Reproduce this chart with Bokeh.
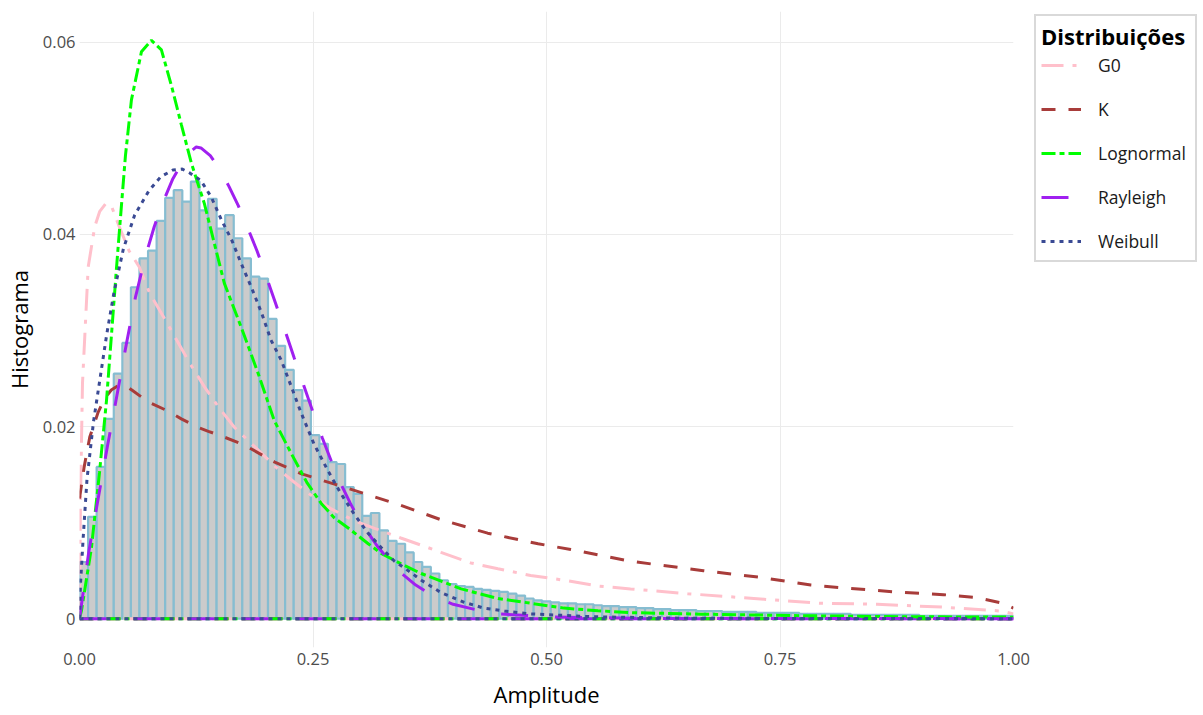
from bokeh.plotting import figure
from bokeh.layouts import row
from bokeh.models import Legend, LegendItem, FixedTicker, ColumnDataSource, Range1d
from bokeh.embed import file_html
from bokeh.resources import INLINE

# ---------------- data ----------------
n_bins = 109
hist_density = [
    0.0059, 0.0106, 0.0158, 0.0208, 0.0255, 0.0287, 0.0345, 0.0375, 0.0383, 0.0414,
    0.0438, 0.0446, 0.0434, 0.0455, 0.0425, 0.0437, 0.0406, 0.0420, 0.0396, 0.0375,
    0.0356, 0.0354, 0.0312, 0.0284, 0.0259, 0.0238, 0.0227, 0.0191, 0.0182, 0.0163,
    0.0161, 0.0137, 0.0130, 0.0107, 0.0110, 0.0092, 0.0081, 0.0078, 0.0069, 0.0059,
    0.0054, 0.0047, 0.0040, 0.0036, 0.0034, 0.0033, 0.0031, 0.0030, 0.0029, 0.0028,
    0.0026, 0.0024, 0.0021, 0.0019, 0.0018, 0.0017, 0.0016, 0.0016, 0.0015, 0.0015,
    0.0014, 0.0013, 0.0013, 0.0012, 0.0012, 0.0011, 0.0011, 0.0010, 0.0010, 0.0009,
    0.0009, 0.0009, 0.0008, 0.0008, 0.0008, 0.0007, 0.0007, 0.0007, 0.0007, 0.0006,
    0.0006, 0.0006, 0.0006, 0.0006, 0.0005, 0.0005, 0.0005, 0.0005, 0.0005, 0.0005,
    0.0004, 0.0004, 0.0004, 0.0004, 0.0004, 0.0004, 0.0004, 0.0004, 0.0003, 0.0003,
    0.0003, 0.0003, 0.0003, 0.0003, 0.0003, 0.0003, 0.0003, 0.0003, 0.0003,
]

g0_x = [0.0, 0.001, 0.0032, 0.0093, 0.0163, 0.0217, 0.028, 0.034, 0.043, 0.053, 0.064,
        0.075, 0.09, 0.104, 0.118, 0.134, 0.149, 0.166, 0.181, 0.195, 0.21, 0.23, 0.25,
        0.27, 0.294, 0.316, 0.344, 0.373, 0.387, 0.419, 0.448, 0.483, 0.519, 0.555, 0.59,
        0.651, 0.722, 0.794, 0.854, 0.925, 0.986, 1.0]
g0_y = [0.0, 0.012, 0.0245, 0.0366, 0.0408, 0.0424, 0.0432, 0.0430, 0.0407, 0.0383, 0.0366,
        0.0339, 0.0314, 0.0290, 0.0266, 0.0241, 0.0220, 0.0199, 0.0185, 0.0172, 0.0158, 0.0142, 0.0127,
        0.0114, 0.0102, 0.0094, 0.0084, 0.0074, 0.0069, 0.0058, 0.0052, 0.0045, 0.0040, 0.0034, 0.0031,
        0.0026, 0.0021, 0.0016, 0.0015, 0.0012, 0.0008, 0.0005]

k_x = [0.0, 0.005, 0.011, 0.02, 0.027, 0.034, 0.042, 0.05, 0.056, 0.066, 0.077, 0.095, 0.109,
       0.127, 0.138, 0.155, 0.176, 0.209, 0.237, 0.273, 0.309, 0.344, 0.387, 0.437, 0.491,
       0.526, 0.583, 0.612, 0.668, 0.729, 0.783, 0.818, 0.872, 0.925, 0.961, 0.989, 1.0]
k_y = [0.0125, 0.0158, 0.0189, 0.0215, 0.0229, 0.0238, 0.0243, 0.0242, 0.0238, 0.0231, 0.0224,
       0.0216, 0.0208, 0.0199, 0.0195, 0.0189, 0.0181, 0.0163, 0.0151, 0.0140, 0.0129, 0.0118,
       0.0103, 0.0089, 0.0078, 0.0072, 0.0061, 0.0057, 0.0050, 0.0043, 0.0035, 0.0032, 0.0028,
       0.0025, 0.0022, 0.0016, 0.0011]

logn_x = [0.0, 0.0021, 0.0128, 0.0214, 0.0289, 0.0342, 0.0396, 0.0449, 0.0492, 0.0556, 0.0663,
          0.077, 0.0877, 0.0984, 0.1091, 0.1198, 0.1337, 0.1551, 0.1733, 0.1914, 0.2086, 0.2267,
          0.2439, 0.2588, 0.2727, 0.2909, 0.3091, 0.323, 0.3444, 0.3658, 0.3872, 0.4086, 0.4481,
          0.4834, 0.5187, 0.5551, 0.5904, 0.6652, 0.7722, 0.8791, 1.0]
logn_y = [0.0, 0.00083, 0.0074, 0.0152, 0.0227, 0.0295, 0.0365, 0.0430, 0.0482, 0.0540, 0.0590,
          0.0602, 0.0592, 0.0555, 0.0514, 0.0474, 0.0432, 0.0349, 0.0303, 0.0255, 0.0206, 0.0172,
          0.0141, 0.0120, 0.0105, 0.0092, 0.0078, 0.0068, 0.0057, 0.0047, 0.0039, 0.0031, 0.0021,
          0.0016, 0.0011, 0.00083, 0.00063, 0.00047, 0.00031, 0.00021, 0.00016]

ray_x = [0.0, 0.01, 0.02, 0.03, 0.04, 0.05, 0.06, 0.07, 0.08, 0.09, 0.10, 0.11, 0.12, 0.125,
         0.13, 0.14, 0.15, 0.16, 0.17, 0.18, 0.19, 0.20, 0.21, 0.22, 0.23, 0.24, 0.25, 0.26,
         0.27, 0.28, 0.29, 0.30, 0.31, 0.32, 0.34, 0.36, 0.38, 0.40, 0.43, 0.45, 0.50, 0.60, 1.0]
ray_y = [0.0, 0.0070, 0.0125, 0.0180, 0.0232, 0.0285, 0.0335, 0.0375, 0.0408, 0.0435, 0.0458,
         0.0475, 0.0487, 0.0491, 0.0490, 0.0482, 0.0468, 0.0450, 0.0430, 0.0407, 0.0383, 0.0356,
         0.0328, 0.0300, 0.0271, 0.0243, 0.0215, 0.0188, 0.0163, 0.0140, 0.0120, 0.0102, 0.0088,
         0.0074, 0.0051, 0.0035, 0.0023, 0.0015, 0.0008, 0.0005, 0.0002, 0.00003, 0.0]

weib_x = [0.0, 0.001, 0.004, 0.008, 0.015, 0.022, 0.029, 0.037, 0.047, 0.059, 0.074, 0.087,
          0.100, 0.110, 0.118, 0.130, 0.141, 0.152, 0.163, 0.173, 0.184, 0.195, 0.205, 0.216,
          0.227, 0.237, 0.251, 0.266, 0.280, 0.294, 0.309, 0.323, 0.337, 0.352, 0.366, 0.384,
          0.39, 0.412, 0.433, 0.455, 0.483, 0.55, 0.65, 1.0]
weib_y = [0.0, 0.0035, 0.0085, 0.0145, 0.0205, 0.0250, 0.0295, 0.0340, 0.0385, 0.0420, 0.0445,
          0.0460, 0.0467, 0.0468, 0.0464, 0.0456, 0.0439, 0.0415, 0.0394, 0.0370, 0.0345, 0.0318,
          0.0290, 0.0269, 0.0241, 0.0215, 0.0182, 0.0154, 0.0130, 0.0109, 0.0089, 0.0074, 0.0060,
          0.0050, 0.0040, 0.0029, 0.0026, 0.0017, 0.0011, 0.0008, 0.0005, 0.0002, 0.00004, 0.0]

series_names = ["G0", "K", "Lognormal", "Rayleigh", "Weibull"]
x_ticks = [0.0, 0.25, 0.5, 0.75, 1.0]
x_tick_labels = ["0.00", "0.25", "0.50", "0.75", "1.00"]
y_ticks = [0.0, 0.02, 0.04, 0.06]
y_tick_labels = ["0", "0.02", "0.04", "0.06"]

# ---------------- styles ----------------
FONT = "Open Sans"
styles = {
    "G0":        dict(color="#FFC0CB", dash="22 9 4 9"),
    "K":         dict(color="#A83C3A", dash="14 13"),
    "Lognormal": dict(color="#00FF00", dash="14 4 5 4"),
    "Rayleigh":  dict(color="#A020F0", dash="27 27"),
    "Weibull":   dict(color="#3A4A94", dash="4 5"),
}
curves = {
    "G0": (g0_x, g0_y),
    "K": (k_x, k_y),
    "Lognormal": (logn_x, logn_y),
    "Rayleigh": (ray_x, ray_y),
    "Weibull": (weib_x, weib_y),
}

H = 715
MAIN_W = 1032
p = figure(width=MAIN_W, height=H, output_backend="svg", toolbar_location=None,
           x_range=Range1d(0, 1), y_range=Range1d(-0.003, 0.0632),
           min_border_left=78, min_border_right=MAIN_W - 1013, min_border_top=11,
           min_border_bottom=H - 647)
p.outline_line_color = None
p.background_fill_color = "white"
p.border_fill_color = "white"

# histogram
bw = 1.0 / n_bins
lefts = [i * bw for i in range(n_bins)]
rights = [(i + 1) * bw for i in range(n_bins)]
hsrc = ColumnDataSource(dict(left=lefts, right=rights, top=hist_density,
                             bottom=[0.0] * n_bins))
p.quad(left="left", right="right", top="top", bottom="bottom", source=hsrc,
       fill_color="#CBCBCB", line_color="#86BDD1", line_width=2.2)

# zero baselines for each series (as in the reference)
for name in series_names:
    xs, ys = curves[name]
    st = styles[name]
    p.line(xs, [0.0] * len(xs), line_color=st["color"], line_width=3, line_dash=st["dash"])

for name in series_names:
    xs, ys = curves[name]
    st = styles[name]
    p.line(xs, ys, line_color=st["color"], line_width=3, line_dash=st["dash"])

# axes
p.xaxis.ticker = FixedTicker(ticks=x_ticks)
p.xaxis.major_label_overrides = {t: l for t, l in zip(x_ticks, x_tick_labels)}
p.yaxis.ticker = FixedTicker(ticks=y_ticks)
p.yaxis.major_label_overrides = {t: l for t, l in zip(y_ticks, y_tick_labels)}
for ax in (p.xaxis[0], p.yaxis[0]):
    ax.axis_line_color = None
    ax.major_tick_line_color = None
    ax.minor_tick_line_color = None
    ax.major_tick_out = 0
    ax.major_tick_in = 0
    ax.minor_tick_out = 0
    ax.minor_tick_in = 0
    ax.major_label_text_font = FONT
    ax.major_label_text_font_size = "16.5px"
    ax.major_label_text_color = "#4D4D4D"
    ax.axis_label_text_font = FONT
    ax.axis_label_text_font_size = "22px"
    ax.axis_label_text_font_style = "normal"
    ax.axis_label_text_color = "#000000"
p.xaxis.axis_label = "Amplitude"
p.yaxis.axis_label = "Histograma"
p.xaxis.major_label_standoff = 5
p.xaxis.axis_label_standoff = 11
p.yaxis.major_label_standoff = 4
p.yaxis.axis_label_standoff = 6

p.xgrid.ticker = FixedTicker(ticks=x_ticks)
p.ygrid.ticker = FixedTicker(ticks=y_ticks)
p.xgrid.grid_line_color = "#EBEBEB"
p.ygrid.grid_line_color = "#EBEBEB"
p.xgrid.grid_line_width = 1
p.ygrid.grid_line_width = 1

# ---------------- legend panel (separate figure to the right) ----------------
LEG_W = 1200 - MAIN_W
lf = figure(width=LEG_W, height=H, output_backend="svg", toolbar_location=None,
            x_range=Range1d(10, 11), y_range=Range1d(10, 11),
            x_axis_type=None, y_axis_type=None,
            min_border_left=0, min_border_right=0, min_border_top=0, min_border_bottom=0)
lf.outline_line_color = None
lf.grid.visible = False
lf.background_fill_color = "white"
lf.border_fill_color = "white"

items = []
for name in series_names:
    xs, ys = curves[name]
    st = styles[name]
    r = lf.line(xs, ys, line_color=st["color"], line_width=3, line_dash=st["dash"])
    items.append(LegendItem(label=name, renderers=[r]))

legend = Legend(items=items, location=(2, 385))
legend.title = "Distribuições"
legend.title_text_font = FONT
legend.title_text_font_style = "bold"
legend.title_text_font_size = "22px"
legend.title_text_color = "#000000"
legend.title_standoff = 0
legend.label_text_font = FONT
legend.label_text_font_size = "17.5px"
legend.label_text_color = "#1A1A1A"
legend.glyph_width = 40
legend.glyph_height = 28
legend.label_height = 28
legend.label_width = 92
legend.spacing = 16
legend.label_standoff = 17
legend.padding = 5
legend.margin = 0
legend.border_line_color = "#B3B3B3"
legend.border_line_width = 2
legend.background_fill_color = "white"
legend.background_fill_alpha = 1.0
lf.add_layout(legend, "center")

layout = row(p, lf)
open("out.html", "w").write(file_html(layout, INLINE))
